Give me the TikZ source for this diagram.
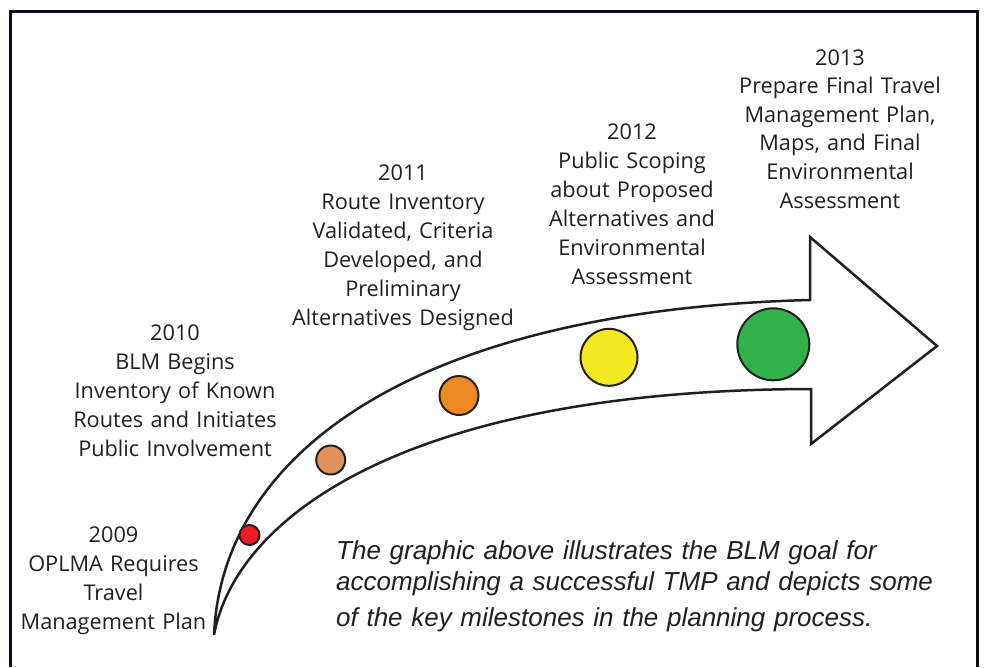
\documentclass[tikz,border=0pt]{standalone}
\usepackage{fontspec}
\setmainfont{Open Sans}
\newfontfamily\italfont{Liberation Sans}
\definecolor{ink}{HTML}{231F20}
\definecolor{framec}{HTML}{0A0A1E}
\definecolor{cred}{HTML}{ED1C24}
\definecolor{clight}{HTML}{E3915A}
\definecolor{corange}{HTML}{EB8A23}
\definecolor{cyellow}{HTML}{F4EA21}
\definecolor{cgreen}{HTML}{32B34A}
\begin{document}
\begin{tikzpicture}[x=1pt,y=-1pt,
  lbl/.style={font=\fontsize{21.7}{29}\selectfont, text width=260pt, align=center,
    inner sep=0pt, anchor=base, text=ink},
  dot/.style={circle, draw=ink, line width=2pt, inner sep=0pt},
  arrowline/.style={draw=ink, line width=2.5pt, fill=white, line join=miter},
  framebox/.style={draw=framec, line width=3pt}]
\useasboundingbox (0,0) rectangle (984,667);
\fill[white] (0,0) rectangle (984,667);
\coordinate (fbl) at (10,667);
\coordinate (ftl) at (10,11);
\coordinate (ftr) at (977,11);
\coordinate (fbr) at (977,667);
\draw[framebox] (fbl) -- (ftl) -- (ftr) -- (fbr);
% arrow
\coordinate (tail) at (214,635);
\coordinate (su) at (810,300);
\coordinate (hu) at (810,237);
\coordinate (tip) at (937,346);
\coordinate (hl) at (811,444);
\coordinate (sl) at (811,389);
\draw[arrowline] (tail) .. controls (222,450) and (420,310) .. (su) -- (hu) -- (tip) -- (hl) -- (sl)
  .. controls (400,390) and (235,520) .. (tail) -- cycle;
% milestones
\node[dot, fill=cred, minimum size=20pt] (m2009) at (249.5,535) {};
\node[dot, fill=clight, minimum size=29pt] (m2010) at (330.7,460) {};
\node[dot, fill=corange, minimum size=39pt] (m2011) at (459,395.5) {};
\node[dot, fill=cyellow, minimum size=57pt] (m2012) at (609,357.3) {};
\node[dot, fill=cgreen, minimum size=72pt] (m2013) at (773.3,344.3) {};
% labels
\node[lbl] (t2009) at (113.5,542) {2009\\OPLMA Requires\\Travel\\Management Plan};
\node[lbl] (t2010) at (175,340.7) {2010\\BLM Begins\\Inventory of Known\\Routes and Initiates\\Public Involvement};
\node[lbl] (t2011) at (403,180.7) {2011\\Route Inventory\\Validated, Criteria\\Developed, and\\Preliminary\\Alternatives Designed};
\node[lbl] (t2012) at (632,139.3) {2012\\Public Scoping\\about Proposed\\Alternatives and\\Environmental\\Assessment};
\node[lbl, font=\fontsize{21.7}{28.6}\selectfont] (t2013) at (840,65) {2013\\Prepare Final Travel\\Management Plan,\\Maps, and Final\\Environmental\\Assessment};
\node[font=\italfont\itshape\fontsize{26}{31}\selectfont, text width=640pt, align=left,
  inner sep=0pt, anchor=base west, text=ink] (note) at (336,559)
  {The graphic above illustrates the BLM goal for\\accomplishing a successful TMP and depicts some\\[5pt]of the key milestones in the planning process.};
\end{tikzpicture}
\end{document}
